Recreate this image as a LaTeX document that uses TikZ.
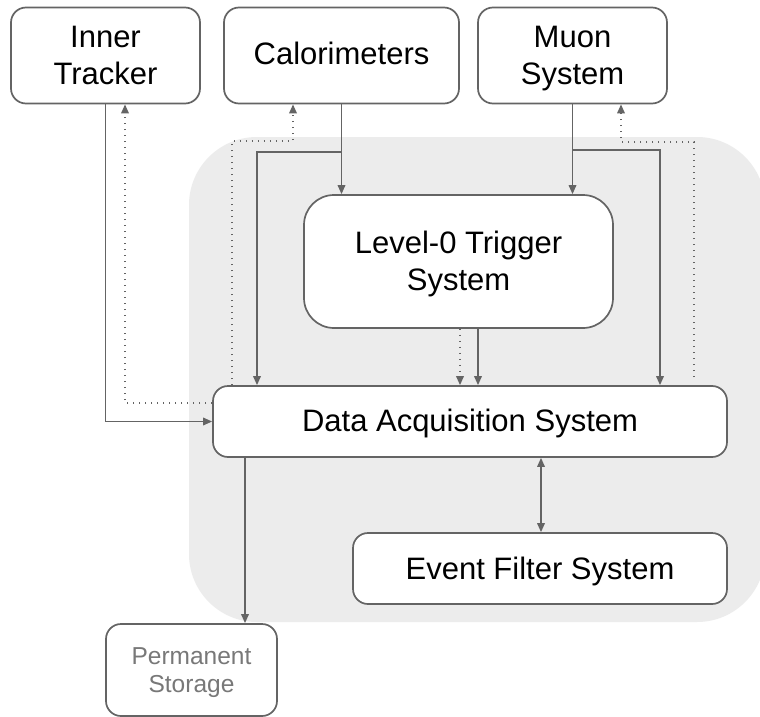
\documentclass[tikz,border=0pt]{standalone}
\usepackage{fontspec}
\setmainfont{Liberation Sans}
\usetikzlibrary{arrows.meta}
\definecolor{bggray}{RGB}{236,236,236}
\definecolor{linegray}{RGB}{100,100,100}
\definecolor{txtgray}{RGB}{120,120,120}
\newcommand{\lowtxt}[2]{\raisebox{-#1}[\height][\depth]{\begin{tabular}{@{}c@{}}#2\end{tabular}}}
\tikzset{
  box/.style={draw=linegray, line width=1.7pt, fill=white, rounded corners=15pt, align=center,
    font=\fontsize{31}{37}\selectfont, inner sep=0pt},
  arr/.style={draw=linegray, line width=1.7pt, -{Triangle[length=9pt,width=7.5pt]}},
  dotarr/.style={draw=linegray, line width=1.7pt, dash pattern=on 1.5pt off 4.5pt, -{Triangle[length=9pt,width=7.5pt]}},
  dblarr/.style={draw=linegray, line width=1.7pt, {Triangle[length=9pt,width=7.5pt]}-{Triangle[length=9pt,width=7.5pt]}},
}
\begin{document}
\begin{tikzpicture}[x=1pt,y=-1pt]
\useasboundingbox (0,0) rectangle (760,717);
\clip (0,0) rectangle (760,717);
\fill[white] (0,0) rectangle (760,717);
% background region
\fill[bggray, rounded corners=68pt] (189,137) rectangle (765,622);

\node[box, minimum width=189pt, minimum height=96pt] (IT) at (105.5,55.5) {\lowtxt{3pt}{Inner\\Tracker}};
\node[box, minimum width=235pt, minimum height=96pt] (CAL) at (341.5,55.5) {\lowtxt{2pt}{Calorimeters}};
\node[box, minimum width=189pt, minimum height=96pt] (MU) at (572.5,55.5) {\lowtxt{3pt}{Muon\\System}};
\node[box, rounded corners=30pt, minimum width=309pt, minimum height=133pt] (L0) at (458.5,261.5) {\lowtxt{3pt}{Level-0 Trigger\\System}};
\node[box, minimum width=514pt, minimum height=71pt] (DAQ) at (470,421.5) {\lowtxt{3pt}{Data Acquisition System}};
\node[box, minimum width=374pt, minimum height=71pt] (EF) at (540,568.5) {\lowtxt{4pt}{Event Filter System}};
\node[box, minimum width=171pt, minimum height=92pt, text=txtgray, font=\fontsize{24.5}{27.5}\selectfont] (PS) at (191.5,670) {\lowtxt{3pt}{Permanent\\Storage}};

% Inner tracker
\draw[arr] (IT.south) |- (DAQ.west);
\draw[dotarr] (DAQ.west |- 0,403) -| (IT.south -| 125,0);
% Calorimeters
\draw[arr] (CAL.south) -- (L0.north -| CAL.south);
\draw[arr] (CAL.south |- 0,152) -| (DAQ.north -| 257,0);
\draw[dotarr] (DAQ.north -| 232,0) |- (293,141) -- (CAL.south -| 293,0);
% Muon
\draw[arr] (MU.south) -- (L0.north -| MU.south);
\draw[arr] (MU.south |- 0,150) -| (DAQ.north -| 660,0);
\coordinate (dmu) at (694,377);
\draw[dotarr] (dmu) |- (621,142) -- (MU.south -| 621,0);
% L0 to DAQ
\draw[dotarr] (L0.south -| 460,0) -- (DAQ.north -| 460,0);
\draw[arr] (L0.south -| 478,0) -- (DAQ.north -| 478,0);
% DAQ <-> EF
\draw[dblarr] (DAQ.south -| 541,0) -- (EF.north -| 541,0);
% DAQ to storage
\draw[arr] (DAQ.south -| 245,0) -- (PS.north -| 245,0);
\end{tikzpicture}
\end{document}
